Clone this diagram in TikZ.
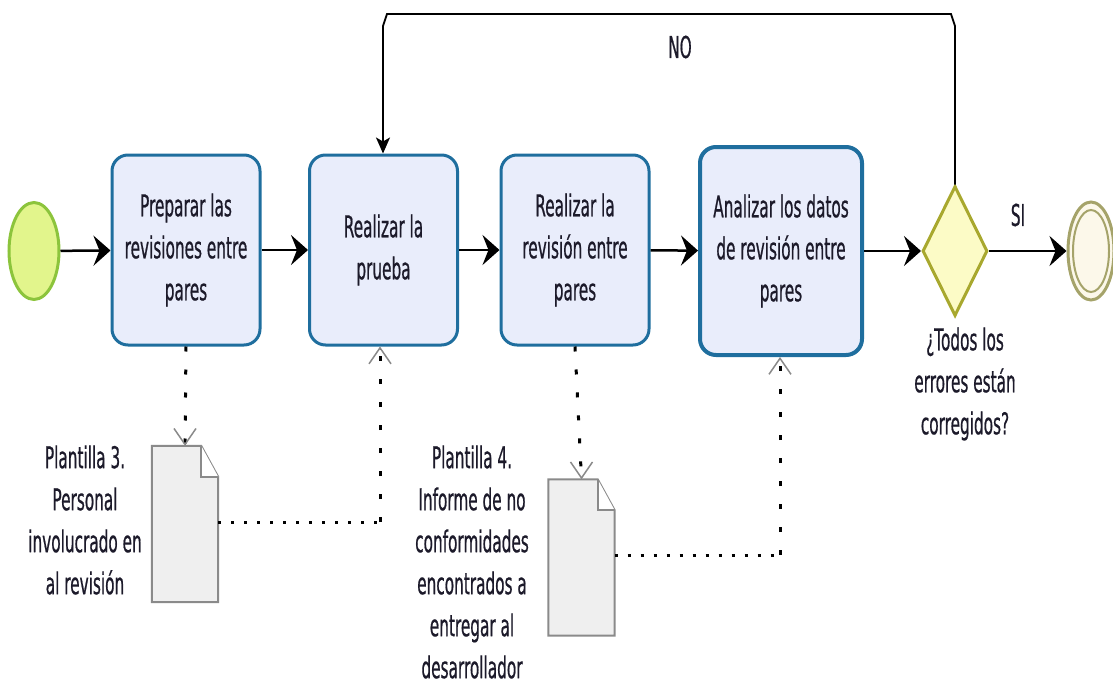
\documentclass[tikz,border=0pt]{standalone}
\usepackage{fontspec}
\setmainfont{DejaVu Sans}[FakeStretch=0.51,FakeBold=0.6]
\usetikzlibrary{arrows.meta,shapes.geometric,calc}
\definecolor{boxline}{HTML}{1F6E9E}
\definecolor{boxfill}{HTML}{E9EDFB}
\definecolor{startfill}{HTML}{E2F58C}
\definecolor{startline}{HTML}{8CC43C}
\definecolor{gwfill}{HTML}{FCFBC6}
\definecolor{gwline}{HTML}{A8A82E}
\definecolor{endline}{HTML}{A5A36A}
\definecolor{endfill}{HTML}{FCF8EA}
\definecolor{docfill}{HTML}{EFEFEF}
\definecolor{docline}{HTML}{8A8A8A}
\definecolor{txt}{HTML}{1C1A2A}
\begin{document}
\begin{tikzpicture}[x=1pt,y=-1pt,
  font=\fontsize{30}{42}\selectfont,
  every node/.style={text=txt},
  task/.style={rectangle, rounded corners=16, draw=boxline, line width=3, fill=boxfill,
    minimum width=148, minimum height=190, align=center, inner sep=0},
  flow/.style={line width=2.5, -{Stealth[length=17,width=30,inset=6]}},
  loopflow/.style={line width=1.8, -{Stealth[length=16,width=14,inset=4]}},
  assocv/.style={line width=3, dash pattern=on 5 off 18},
  assoch/.style={line width=3, dash pattern=on 3 off 10},
  opentip/.style={-{Straight Barb[length=16,width=22,line width=1.5,color=docline]}},
  docbox/.style={rectangle, minimum width=66, minimum height=156, inner sep=0},
  docshape/.style={draw=docline, fill=docfill, line width=2},
  lbl/.style={align=center, inner sep=0}
]
\useasboundingbox (0,0) rectangle (1113,685);

% events and gateway
\node[ellipse, minimum width=50, minimum height=97, inner sep=0, fill=startfill, draw=startline, line width=3] (start) at (34,251) {};
\node[task] (t1) at (186,250) {Preparar las\\revisiones entre\\pares};
\node[task] (t2) at (383.5,250) {Realizar la\\prueba};
\node[task] (t3) at (575,250) {Realizar la\\revisión entre\\pares};
\node[task, line width=4, minimum width=162, minimum height=208] (t4) at (781,251) {Analizar los datos\\de revisión entre\\pares};
\node[diamond, aspect=0.5, minimum width=65, minimum height=130, inner sep=0, fill=gwfill, draw=gwline, line width=3] (gw) at (955,251) {};
\node[ellipse, minimum width=46, minimum height=98, inner sep=0, fill=endfill, draw=endline, line width=3] (end) at (1091,251) {};
\node[ellipse, minimum width=36, minimum height=82, inner sep=0, draw=endline, line width=2] (endin) at (1091,251) {};

% documents
\node[docbox] (doc1) at (185,524) {};
\draw[docshape] (doc1.south west) -- (doc1.north west) -- ($(doc1.north east)+(-17,0)$) -- ($(doc1.north east)+(0,31)$) -- (doc1.south east) -- cycle;
\draw[docshape, fill=white] ($(doc1.north east)+(-17,0)$) -- ($(doc1.north east)+(-17,31)$) -- ($(doc1.north east)+(0,31)$);
\node[docbox] (doc2) at (581.5,557.5) {};
\draw[docshape] (doc2.south west) -- (doc2.north west) -- ($(doc2.north east)+(-17,0)$) -- ($(doc2.north east)+(0,31)$) -- (doc2.south east) -- cycle;
\draw[docshape, fill=white] ($(doc2.north east)+(-17,0)$) -- ($(doc2.north east)+(-17,31)$) -- ($(doc2.north east)+(0,31)$);

% sequence flows
\draw[flow] (start) -- (t1);
\draw[flow] (t1) -- (t2);
\draw[flow] (t2) -- (t3);
\draw[flow] (t3) -- (t4);
\draw[flow] (t4) -- (gw);
\draw[flow] (gw) -- (end);
\coordinate (la) at (955,26);
\coordinate (lb) at (951,14);
\coordinate (lc) at (387,14);
\coordinate (ld) at (383,26);
\draw[loopflow] (gw.north) -- (la) -- (lb) -- (lc) -- (ld) -- (ld |- t2.north);

% associations
\draw[assocv] (t1.south) -- (doc1.north);
\draw[opentip] ($(doc1.north)+(0,-2)$) -- (doc1.north);
\coordinate (c1) at (380,522);
\draw[assoch] (doc1.east |- c1) -- (c1);
\draw[assocv] (c1) -- (c1 |- t2.south);
\draw[opentip] ($(c1 |- t2.south)+(0,2)$) -- (c1 |- t2.south);

\draw[assocv] (t3.south) -- (doc2.north);
\draw[opentip] ($(doc2.north)+(0,-2)$) -- (doc2.north);
\coordinate (c2) at (780,555);
\draw[assoch] (doc2.east |- c2) -- (c2);
\draw[assocv] (c2) -- (c2 |- t4.south);
\draw[opentip] ($(c2 |- t4.south)+(0,2)$) -- (c2 |- t4.south);

% labels
\node[lbl] (no) at (680,47) {NO};
\node[lbl] (si) at (1018,215) {SI};
\node[lbl] (gwl) at (965,384) {¿Todos los\\errores están\\corregidos?};
\node[lbl] (d1l) at (85,520) {Plantilla 3.\\Personal\\involucrado en\\al revisión};
\node[lbl] (d2l) at (472,562) {Plantilla 4.\\Informe de no\\conformidades\\encontrados a\\entregar al\\desarrollador};
\end{tikzpicture}
\end{document}
